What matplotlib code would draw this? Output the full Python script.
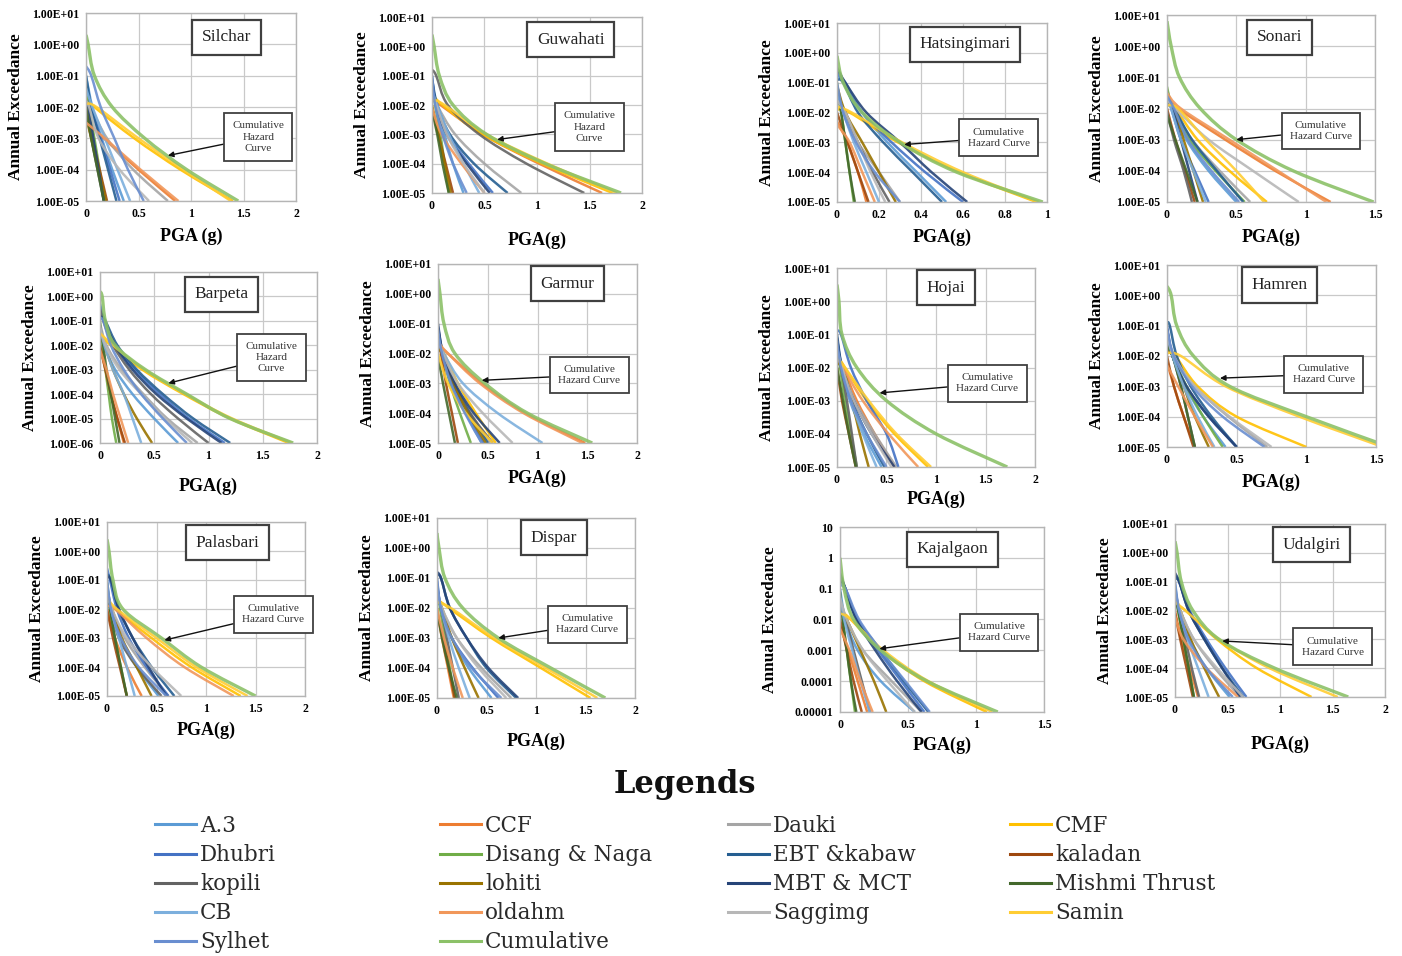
import numpy as np
import matplotlib
matplotlib.use('Agg')
import matplotlib.pyplot as plt
from matplotlib.lines import Line2D
from matplotlib.path import Path
from matplotlib.patches import PathPatch
from matplotlib.ticker import FuncFormatter

plt.rcParams['font.family'] = ['Liberation Serif', 'DejaVu Serif']

sources = ['A.3', 'CCF', 'Dauki', 'CMF', 'Dhubri', 'Disang & Naga', 'EBT &kabaw',
           'kaladan', 'kopili', 'lohiti', 'MBT & MCT', 'Mishmi Thrust', 'CB',
           'oldahm', 'Saggimg', 'Samin', 'Sylhet', 'Cumulative']
colors = ['#5B9BD5', '#ED7D31', '#A5A5A5', '#FFC000', '#4472C4', '#70AD47', '#255E91',
          '#9E480E', '#636363', '#997300', '#264478', '#43682B', '#7CAFDD',
          '#F1975A', '#B7B7B7', '#FFCD33', '#698ED0', '#8CC168']

# one row per source (same order as `sources`):
# first value = log10 annual exceedance at PGA 0, then the PGA (g) at which
# the curve drops through each following decade, down to the axis floor
silchar = [
    [-1.0, 0.06, 0.15, 0.25, 0.36], [-2.4, 0.17, 0.50, 0.85], [-1.5, 0.05, 0.20, 0.45, 0.78],
    [-1.7, 0.08, 0.46, 0.90, 1.40], [-1.3, 0.05, 0.14, 0.23, 0.32], [-1.2, 0.03, 0.08, 0.13, 0.18],
    [-1.0, 0.05, 0.13, 0.21, 0.29], [-2.0, 0.06, 0.13, 0.20], [-2.2, 0.05, 0.11, 0.17],
    [-2.3, 0.05, 0.12, 0.19], [-1.8, 0.02, 0.07, 0.12, 0.17], [-2.0, 0.05, 0.11, 0.17],
    [-1.4, 0.06, 0.18, 0.30, 0.42], [-2.5, 0.18, 0.52, 0.88], [-1.8, 0.03, 0.12, 0.32, 0.60],
    [-1.9, 0.10, 0.50, 0.93, 1.38], [-0.7, 0.05, 0.14, 0.27, 0.40, 0.55],
    [0.3, 0.02, 0.08, 0.25, 0.56, 0.96, 1.45]]
guwahati = [
    [-1.2, 0.04, 0.12, 0.20, 0.30], [-1.8, 0.08, 0.48, 1.02, 1.62], [-1.4, 0.05, 0.22, 0.50, 0.85],
    [-1.6, 0.10, 0.48, 1.05, 1.72], [-1.0, 0.04, 0.15, 0.35, 0.58], [-1.3, 0.03, 0.08, 0.12, 0.16],
    [-1.1, 0.05, 0.17, 0.40, 0.72], [-2.1, 0.06, 0.13, 0.20], [-0.8, 0.04, 0.15, 0.45, 0.90, 1.45],
    [-2.0, 0.06, 0.12, 0.18], [-1.2, 0.04, 0.14, 0.33, 0.55], [-2.2, 0.05, 0.10, 0.16],
    [-1.5, 0.05, 0.16, 0.30, 0.45], [-2.1, 0.09, 0.28, 0.50], [-1.7, 0.04, 0.14, 0.30, 0.50],
    [-1.8, 0.12, 0.52, 1.10, 1.76], [-1.0, 0.03, 0.10, 0.20, 0.33],
    [0.4, 0.02, 0.07, 0.20, 0.52, 1.08, 1.80]]
hatsingimari = [
    [-0.8, 0.04, 0.12, 0.24, 0.38, 0.52], [-2.3, 0.05, 0.10, 0.14], [-1.2, 0.03, 0.10, 0.20, 0.30],
    [-1.9, 0.06, 0.29, 0.58, 0.95], [-0.6, 0.03, 0.12, 0.26, 0.42, 0.60], [-1.0, 0.02, 0.04, 0.06, 0.08],
    [-0.9, 0.03, 0.10, 0.22, 0.36, 0.50], [-2.0, 0.05, 0.10, 0.15], [-1.5, 0.04, 0.10, 0.17, 0.25],
    [-1.1, 0.04, 0.12, 0.20, 0.28], [-0.5, 0.04, 0.14, 0.30, 0.45, 0.62], [-1.3, 0.02, 0.04, 0.06, 0.085],
    [-1.4, 0.03, 0.08, 0.14, 0.20], [-2.4, 0.06, 0.12, 0.18], [-1.6, 0.04, 0.10, 0.16, 0.23],
    [-1.8, 0.07, 0.31, 0.60, 0.96], [-1.0, 0.03, 0.09, 0.18, 0.30],
    [-0.1, 0.03, 0.12, 0.30, 0.57, 0.98]]
sonari = [
    [-1.5, 0.04, 0.14, 0.30, 0.50], [-1.6, 0.08, 0.42, 0.78, 1.18], [-1.4, 0.05, 0.18, 0.38, 0.60],
    [-1.8, 0.06, 0.22, 0.45, 0.72], [-1.7, 0.03, 0.10, 0.20, 0.30], [-1.3, 0.04, 0.16, 0.35, 0.56],
    [-1.9, 0.05, 0.18, 0.36, 0.55], [-2.0, 0.06, 0.13, 0.20], [-2.1, 0.05, 0.12, 0.18],
    [-1.8, 0.05, 0.12, 0.19, 0.26], [-1.6, 0.04, 0.10, 0.16, 0.22], [-2.2, 0.06, 0.14, 0.22],
    [-1.5, 0.03, 0.10, 0.19, 0.28], [-1.5, 0.10, 0.45, 0.80, 1.15], [-1.7, 0.06, 0.30, 0.62, 0.95],
    [-1.9, 0.08, 0.28, 0.50, 0.70], [-1.6, 0.05, 0.15, 0.32, 0.52],
    [0.8, 0.03, 0.09, 0.24, 0.50, 0.91, 1.49]]
barpeta = [
    [-1.3, 0.04, 0.14, 0.30, 0.50, 0.72], [-2.1, 0.05, 0.10, 0.16, 0.22],
    [-1.1, 0.06, 0.20, 0.40, 0.62, 0.90], [-1.5, 0.10, 0.39, 0.77, 1.20, 1.74],
    [-0.3, 0.04, 0.14, 0.32, 0.55, 0.82, 1.15], [-1.0, 0.02, 0.05, 0.08, 0.11, 0.15],
    [-0.6, 0.05, 0.16, 0.34, 0.58, 0.86, 1.20], [-2.0, 0.05, 0.10, 0.16, 0.23],
    [-0.5, 0.03, 0.12, 0.27, 0.47, 0.72, 1.00], [-1.6, 0.04, 0.12, 0.22, 0.34, 0.48],
    [-0.8, 0.04, 0.14, 0.30, 0.52, 0.80, 1.12], [-1.2, 0.03, 0.06, 0.10, 0.14, 0.18],
    [-1.3, 0.04, 0.12, 0.22, 0.30, 0.38], [-2.2, 0.06, 0.12, 0.19, 0.26],
    [-1.2, 0.05, 0.18, 0.38, 0.60, 0.85], [-1.5, 0.12, 0.41, 0.79, 1.22, 1.77],
    [-0.9, 0.03, 0.10, 0.22, 0.38, 0.58, 0.80],
    [0.2, 0.02, 0.05, 0.14, 0.42, 0.80, 1.20, 1.78]]
garmur = [
    [-1.4, 0.04, 0.14, 0.28, 0.44], [-1.7, 0.10, 0.44, 0.88, 1.48], [-1.2, 0.05, 0.16, 0.33, 0.52],
    [-1.9, 0.06, 0.20, 0.38, 0.58], [-1.3, 0.04, 0.14, 0.28, 0.46], [-1.8, 0.04, 0.12, 0.22, 0.33],
    [-1.1, 0.05, 0.16, 0.32, 0.50], [-1.6, 0.03, 0.08, 0.14, 0.20], [-1.4, 0.04, 0.15, 0.32, 0.55],
    [-1.9, 0.05, 0.16, 0.30, 0.48], [-1.0, 0.05, 0.17, 0.36, 0.62], [-2.1, 0.05, 0.11, 0.17],
    [-1.5, 0.06, 0.25, 0.60, 1.05], [-1.6, 0.10, 0.42, 0.86, 1.45], [-1.5, 0.05, 0.20, 0.45, 0.75],
    [-2.0, 0.10, 0.28, 0.55], [-1.2, 0.04, 0.13, 0.27, 0.44],
    [0.5, 0.02, 0.06, 0.17, 0.47, 0.90, 1.55]]
hojai = [
    [-1.1, 0.04, 0.13, 0.27, 0.45], [-1.8, 0.06, 0.20, 0.38, 0.58], [-1.4, 0.05, 0.18, 0.38, 0.60],
    [-1.6, 0.08, 0.30, 0.58, 0.92], [-0.9, 0.04, 0.14, 0.30, 0.50, 0.62], [-1.5, 0.03, 0.08, 0.14, 0.20],
    [-1.0, 0.05, 0.15, 0.30, 0.48], [-2.0, 0.05, 0.12, 0.19], [-1.6, 0.04, 0.10, 0.15, 0.20],
    [-1.9, 0.06, 0.15, 0.23, 0.32], [-1.1, 0.05, 0.17, 0.35, 0.58], [-2.0, 0.06, 0.12, 0.19],
    [-1.4, 0.05, 0.14, 0.26, 0.40], [-1.7, 0.06, 0.26, 0.52, 0.82], [-1.5, 0.05, 0.17, 0.35, 0.55],
    [-1.7, 0.08, 0.32, 0.60, 0.95], [-1.2, 0.04, 0.14, 0.30, 0.50],
    [0.5, 0.02, 0.05, 0.20, 0.50, 1.00, 1.72]]
hamren = [
    [-1.3, 0.04, 0.13, 0.26, 0.42], [-2.2, 0.05, 0.12, 0.20], [-1.2, 0.05, 0.20, 0.44, 0.72],
    [-1.9, 0.06, 0.22, 0.50, 1.00], [-1.0, 0.04, 0.14, 0.30, 0.50], [-1.4, 0.04, 0.14, 0.26, 0.40],
    [-0.9, 0.02, 0.07, 0.17, 0.32, 0.50], [-2.0, 0.05, 0.12, 0.19], [-1.6, 0.04, 0.10, 0.15, 0.20],
    [-1.8, 0.04, 0.12, 0.20, 0.30], [-1.1, 0.04, 0.14, 0.30, 0.50], [-1.7, 0.04, 0.10, 0.15, 0.20],
    [-1.3, 0.04, 0.12, 0.22, 0.34], [-2.3, 0.08, 0.20, 0.33], [-1.2, 0.05, 0.20, 0.45, 0.75],
    [-1.9, 0.10, 0.42, 0.95, 1.55], [-1.1, 0.05, 0.18, 0.40, 0.70],
    [0.3, 0.03, 0.07, 0.19, 0.45, 1.00, 1.60]]
palasbari = [
    [-1.0, 0.04, 0.14, 0.30, 0.52], [-2.0, 0.08, 0.20, 0.35], [-1.2, 0.05, 0.18, 0.38, 0.62],
    [-1.7, 0.08, 0.45, 0.85, 1.35], [-0.6, 0.03, 0.10, 0.22, 0.40, 0.62], [-1.1, 0.03, 0.08, 0.14, 0.20],
    [-0.8, 0.04, 0.12, 0.26, 0.45, 0.68], [-2.0, 0.06, 0.13, 0.20], [-1.3, 0.04, 0.12, 0.30, 0.55],
    [-1.6, 0.05, 0.15, 0.30, 0.45], [-0.9, 0.04, 0.12, 0.26, 0.42, 0.60], [-1.4, 0.03, 0.08, 0.14, 0.20],
    [-1.2, 0.04, 0.12, 0.20, 0.28], [-1.9, 0.08, 0.40, 0.78, 1.28], [-1.4, 0.05, 0.20, 0.45, 0.75],
    [-1.6, 0.10, 0.50, 0.90, 1.42], [-1.0, 0.04, 0.14, 0.32, 0.60],
    [0.4, 0.02, 0.06, 0.16, 0.55, 0.95, 1.50]]
dispar = [
    [-1.2, 0.04, 0.15, 0.32, 0.55], [-2.1, 0.05, 0.11, 0.17], [-1.3, 0.05, 0.20, 0.45, 0.75],
    [-1.7, 0.12, 0.55, 1.05, 1.55], [-1.0, 0.04, 0.15, 0.36, 0.62], [-1.3, 0.03, 0.08, 0.13, 0.18],
    [-0.9, 0.04, 0.13, 0.30, 0.50, 0.80], [-2.2, 0.06, 0.12, 0.18], [-1.5, 0.04, 0.10, 0.16, 0.22],
    [-1.6, 0.05, 0.15, 0.28, 0.42], [-0.8, 0.04, 0.13, 0.30, 0.52, 0.82], [-2.0, 0.05, 0.12, 0.20],
    [-1.4, 0.04, 0.12, 0.22, 0.33], [-2.0, 0.07, 0.16, 0.26], [-1.4, 0.05, 0.20, 0.42, 0.70],
    [-1.8, 0.14, 0.58, 1.10, 1.62], [-1.1, 0.04, 0.15, 0.35, 0.65],
    [0.5, 0.02, 0.08, 0.26, 0.62, 1.15, 1.70]]
kajalgaon = [
    [-1.0, 0.04, 0.13, 0.30, 0.55], [-2.2, 0.06, 0.13, 0.20], [-1.3, 0.05, 0.17, 0.38, 0.60],
    [-1.7, 0.08, 0.30, 0.62, 1.08], [-0.6, 0.04, 0.12, 0.28, 0.45, 0.62], [-1.2, 0.02, 0.05, 0.08, 0.11],
    [-0.7, 0.04, 0.13, 0.30, 0.47, 0.65], [-2.0, 0.05, 0.10, 0.16], [-1.6, 0.04, 0.10, 0.16, 0.22],
    [-1.6, 0.05, 0.15, 0.25, 0.34], [-0.5, 0.04, 0.12, 0.26, 0.42, 0.60], [-1.1, 0.02, 0.05, 0.08, 0.12],
    [-1.2, 0.03, 0.09, 0.15, 0.22], [-2.3, 0.07, 0.15, 0.24], [-1.3, 0.05, 0.17, 0.35, 0.55],
    [-1.8, 0.08, 0.32, 0.65, 1.12], [-0.9, 0.04, 0.14, 0.30, 0.48, 0.66],
    [0.0, 0.03, 0.10, 0.30, 0.64, 1.16]]
udalgiri = [
    [-1.1, 0.04, 0.14, 0.30, 0.52], [-2.0, 0.06, 0.14, 0.22], [-1.3, 0.05, 0.18, 0.38, 0.62],
    [-1.8, 0.10, 0.40, 0.78, 1.30], [-0.8, 0.04, 0.14, 0.30, 0.48, 0.68], [-1.2, 0.03, 0.08, 0.13, 0.18],
    [-0.9, 0.04, 0.13, 0.28, 0.45, 0.65], [-2.1, 0.05, 0.11, 0.17], [-1.5, 0.04, 0.10, 0.16, 0.23],
    [-1.7, 0.05, 0.15, 0.28, 0.42], [-0.7, 0.04, 0.13, 0.28, 0.45, 0.62], [-1.6, 0.03, 0.08, 0.13, 0.18],
    [-1.3, 0.04, 0.12, 0.22, 0.32], [-2.2, 0.08, 0.30, 0.60], [-1.4, 0.05, 0.18, 0.40, 0.65],
    [-1.7, 0.10, 0.42, 0.90, 1.55], [-1.0, 0.04, 0.13, 0.30, 0.55],
    [0.4, 0.02, 0.06, 0.17, 0.42, 0.95, 1.65]]

NOTE3 = 'Cumulative\nHazard\nCurve'
NOTE2 = 'Cumulative\nHazard Curve'

# name, curves, x max, x step, lowest decade, x label, note text,
# axes box in pixels (left, top, right, bottom), title box centre, note box centre,
# PGA the note arrow points at, x label distance below the axes (px)
panels = [
    ('Silchar', silchar, 2, 0.5, -5, 'PGA (g)', NOTE3, (86, 13, 296, 201), (0.67, 0.87), (0.82, 0.34), 0.78, 36),
    ('Guwahati', guwahati, 2, 0.5, -5, 'PGA(g)', NOTE3, (432, 17, 642, 193), (0.66, 0.87), (0.75, 0.375), 0.62, 48),
    ('Hatsingimari', hatsingimari, 1, 0.2, -5, 'PGA(g)', NOTE2, (837, 23, 1047, 202), (0.61, 0.88), (0.77, 0.36), 0.32, 36),
    ('Sonari', sonari, 1.5, 0.5, -5, 'PGA(g)', NOTE2, (1167, 15, 1375, 202), (0.54, 0.88), (0.74, 0.38), 0.50, 36),
    ('Barpeta', barpeta, 2, 0.5, -6, 'PGA(g)', NOTE3, (100, 272, 317, 443), (0.56, 0.87), (0.79, 0.50), 0.63, 44),
    ('Garmur', garmur, 2, 0.5, -5, 'PGA(g)', NOTE2, (438, 264, 637, 443), (0.65, 0.89), (0.76, 0.38), 0.44, 36),
    ('Hojai', hojai, 2, 0.5, -5, 'PGA(g)', NOTE2, (837, 268, 1035, 467), (0.55, 0.90), (0.76, 0.42), 0.43, 33),
    ('Hamren', hamren, 1.5, 0.5, -5, 'PGA(g)', NOTE2, (1167, 265, 1376, 447), (0.54, 0.89), (0.75, 0.40), 0.38, 36),
    ('Palasbari', palasbari, 2, 0.5, -5, 'PGA(g)', NOTE2, (107, 522, 305, 696), (0.61, 0.88), (0.84, 0.47), 0.58, 35),
    ('Dispar', dispar, 2, 0.5, -5, 'PGA(g)', NOTE2, (437, 518, 635, 698), (0.59, 0.89), (0.76, 0.41), 0.62, 44),
    ('Kajalgaon', kajalgaon, 1.5, 0.5, -5, 'PGA(g)', NOTE2, (840, 527, 1044, 712), (0.55, 0.88), (0.78, 0.43), 0.29, 34),
    ('Udalgiri', udalgiri, 2, 0.5, -5, 'PGA(g)', NOTE2, (1175, 524, 1385, 697), (0.65, 0.88), (0.75, 0.29), 0.45, 48),
]

W, H = 1402, 956


def hazard_curve(row):
    ''' turn a row (start exponent + decade crossings) into x / log10(y) points '''
    start = row[0]
    pga = np.array(row[1:], dtype=float)
    levels = (np.ceil(start) - 1) - np.arange(len(pga))
    x = np.concatenate([[0.0], pga])
    y = np.concatenate([[start], levels])
    return x, y


def smooth_path(x, ly):
    ''' Excel-style smoothed line: bezier segments through the points,
    built in (x, log y) space so it bends nicely on the log axis '''
    pts = np.column_stack([x, ly])
    ext = np.vstack([pts[0], pts, pts[-1]])
    verts = [pts[0]]
    codes = [Path.MOVETO]
    for i in range(len(pts) - 1):
        p0, p1, p2, p3 = ext[i], ext[i + 1], ext[i + 2], ext[i + 3]
        verts += [p1 + (p2 - p0) / 6.0, p2 - (p3 - p1) / 6.0, p2]
        codes += [Path.CURVE4] * 3
    verts = np.array(verts)
    verts[:, 1] = 10.0 ** verts[:, 1]
    return Path(verts, codes)


def sci_label(v, pos):
    return '%.2E' % v


def plain_label(v, pos):
    return np.format_float_positional(v, trim='-')


fig = plt.figure(figsize=(W / 100, H / 100), dpi=100)

for (name, curves, xmax, xstep, floor, xlab, note, box, title_xy, note_xy, arrow_x, xlab_off) in panels:
    left, top, right, bottom = box
    ax = fig.add_axes([left / W, 1 - bottom / H, (right - left) / W, (bottom - top) / H])
    for k, (row, c) in enumerate(zip(curves, colors)):
        x, ly = hazard_curve(row)
        lw = 2.4 if k == len(curves) - 1 else 1.8
        ax.add_patch(PathPatch(smooth_path(x, ly), fill=False, ec=c, lw=lw, alpha=0.9,
                               capstyle='butt', zorder=2 + k * 0.01))

    ax.set_yscale('log')
    ax.set_xlim(0, xmax)
    ax.set_ylim(10.0 ** floor, 10.0)
    ax.set_yticks(10.0 ** np.arange(floor, 2))
    ax.yaxis.set_minor_locator(plt.NullLocator())
    ax.set_xticks(np.arange(0, xmax + 1e-9, xstep))
    ax.xaxis.set_major_formatter(FuncFormatter(lambda v, p: '%g' % round(v, 2)))
    ax.yaxis.set_major_formatter(FuncFormatter(plain_label if name == 'Kajalgaon' else sci_label))
    ax.tick_params(length=0, labelsize=8.5, pad=5)
    for t in ax.get_xticklabels() + ax.get_yticklabels():
        t.set_fontweight('bold')
    ax.grid(True, color='#c9c9c9', lw=0.9)
    ax.set_axisbelow(True)
    for s in ax.spines.values():
        s.set_color('#b5b5b5')
        s.set_linewidth(1.0)

    h_px = bottom - top
    w_px = right - left
    ax.set_ylabel('Annual Exceedance', fontsize=12.5, fontweight='bold')
    ax.yaxis.set_label_coords(-62 / w_px, 0.5)
    ax.set_xlabel(xlab, fontsize=13, fontweight='bold')
    ax.xaxis.set_label_coords(0.5, -(xlab_off - 9) / h_px)

    ax.text(title_xy[0], title_xy[1], name, transform=ax.transAxes, ha='center', va='center',
            fontsize=12.5, color='#222222', zorder=5,
            bbox=dict(boxstyle='square,pad=0.55', fc='white', ec='#404040', lw=1.6))

    # arrow tip sits on the cumulative curve
    cx, cy = hazard_curve(curves[-1])
    tip_y = 10.0 ** np.interp(arrow_x, cx, cy)
    ax.annotate(note, xy=(arrow_x, tip_y), xytext=note_xy, textcoords='axes fraction',
                ha='center', va='center', fontsize=8, color='#333333', linespacing=1.3,
                annotation_clip=False, zorder=5,
                bbox=dict(boxstyle='square,pad=0.75', fc='white', ec='#404040', lw=1.3),
                arrowprops=dict(arrowstyle='-|>', color='#111111', lw=1.0, mutation_scale=8,
                                shrinkA=0, shrinkB=0))

# legend block under the panels
fig.text(685 / W, 1 - 784 / H, 'Legends', ha='center', va='center', fontsize=22,
         fontweight='bold', color='#111111', family='DejaVu Serif')

handles = [Line2D([], [], color=c, lw=2.2) for c in colors]
columns = [[0, 4, 8, 12, 16], [1, 5, 9, 13, 17], [2, 6, 10, 14], [3, 7, 11, 15]]
col_x = [155, 440, 728, 1010]
for idx, x0 in zip(columns, col_x):
    leg = fig.legend([handles[i] for i in idx], [sources[i] for i in idx],
                     loc='upper left', bbox_to_anchor=(x0 / W, 1 - 815 / H),
                     frameon=False, prop={'family': 'DejaVu Serif', 'size': 15.5},
                     handlelength=1.9, handletextpad=0.2,
                     labelspacing=0.33, borderpad=0, borderaxespad=0)
    for t in leg.get_texts():
        t.set_color('#2a2a2a')

fig.savefig('out.png', dpi=100, facecolor='white')
